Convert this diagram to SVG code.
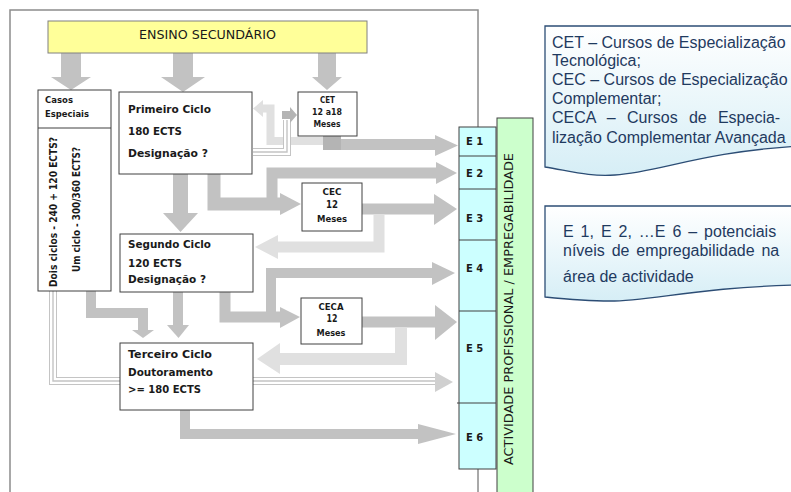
<svg xmlns="http://www.w3.org/2000/svg" width="791" height="492" viewBox="0 0 791 492">
<defs>
<linearGradient id="pg" x1="0" y1="0" x2="0" y2="1">
<stop offset="0" stop-color="#ffffff"/>
<stop offset="1" stop-color="#d6eef6"/>
</linearGradient>
<style>
.frame{fill:none;stroke:#8c8c8c;stroke-width:1.5}
.box{fill:#fff;stroke:#404040;stroke-width:1}
.t{font-family:"DejaVu Sans",Verdana,sans-serif;font-weight:bold;fill:#1a1a1a}
.tn{font-family:"DejaVu Sans",Verdana,sans-serif;fill:#1a1a1a}
.a{fill:none;stroke:#c2c2c2;stroke-linejoin:miter}
.ah{fill:#c2c2c2}
.l{fill:none;stroke:#e0e0e0;stroke-linejoin:miter}
.lh{fill:#e0e0e0}
.tr1{fill:none;stroke:#c4c4c4;stroke-width:8}
.tr2{fill:none;stroke:#fff;stroke-width:6}
.tr3{fill:none;stroke:#c4c4c4;stroke-width:1.4}
.p{font-family:"Liberation Sans",Arial,sans-serif;font-size:16px;fill:#1f3a60}
.panel{fill:url(#pg);stroke:#2c4d75;stroke-width:1.3}
</style>
</defs>
<rect class="frame" x="10" y="10" width="468" height="500"/>
<g id="connectors">
<path class="ah" d="M61,53 H81 V77 H91 L71,90 L51,77 H61 Z"/>
<path class="ah" d="M173,53 H193 V77 H205 L183,92 L161,77 H173 Z"/>
<path class="ah" d="M318,53 H336 V77 H342 L327,90 L312,77 H318 Z"/>
<path class="ah" d="M173,174 H188 V213 H198 L180.5,232 L163,213 H173 Z"/>
<path class="a" stroke-width="13" d="M214,174 V204 H282"/>
<polygon class="ah" points="280,193 280,215 301,204"/>
<path class="a" stroke-width="11" d="M272,204 V173 H438"/>
<polygon class="ah" points="436,162 436,184 457,173"/>
<path class="a" stroke-width="11" d="M362,209 H436"/>
<polygon class="ah" points="434,194 434,225 457,209"/>
<path class="l" stroke-width="11" d="M379,214 V247 H276"/>
<polygon class="lh" points="278,235 278,259 255,247"/>
<path class="a" stroke-width="11" d="M225,292 V317 H282"/>
<polygon class="ah" points="280,307 280,328 300,317"/>
<path class="a" stroke-width="10" d="M271,317 V273 H434"/>
<polygon class="ah" points="432,262 432,285 455,273"/>
<path class="a" stroke-width="11" d="M362,322 H437"/>
<polygon class="ah" points="435,305 435,340 457,322"/>
<path class="l" stroke-width="12" d="M401,327 V359 H278"/>
<polygon class="lh" points="280,343 280,374 257,359"/>
<path class="a" stroke-width="10" d="M185,410 V434 H420"/>
<polygon class="ah" points="418,424 418,444 456,434"/>
<path class="a" stroke-width="10" d="M91,291 V313 H143 V331"/>
<polygon class="ah" points="132,330 154,330 143,338"/>
<path class="a" stroke-width="10" d="M178,292 V326"/>
<polygon class="ah" points="167,325 189,325 178.5,338"/>
<path class="tr1" d="M53,291 V381 H437"/>
<path class="tr2" d="M53,291 V381 H437"/>
<path class="tr3" d="M53,291 V381 H437"/>
<polygon fill="#d0d0d0" points="435,372 435,392 453,382"/>
<path class="l" stroke-width="8" d="M325,141 H270.5 V108.5 H262"/>
<polygon class="lh" points="263,100 263,117 253,108.5"/>
<path class="tr1" d="M253,152 H287 V120"/>
<path class="tr2" d="M253,152 H287 V120"/>
<path class="tr3" d="M253,152 H287 V120"/>
<polygon fill="#b4b4b4" points="282,111 290,111 290,107 297,115 290,123 290,119 282,119"/>
<rect x="323" y="135" width="18" height="15" fill="#b4b4b4"/>
<path class="a" stroke-width="11" d="M341,144.5 H437"/>
<polygon class="ah" points="435,135 435,156 458,145.5"/>
</g>
<g id="ensino">
<rect x="48" y="21" width="319" height="32" fill="#ffff99" stroke="#808080" stroke-width="1"/>
<text class="tn" x="139" y="38.5" font-size="12.5" textLength="137" lengthAdjust="spacingAndGlyphs">ENSINO SECUNDÁRIO</text>
</g>
<g id="casos">
<rect class="box" x="38" y="90" width="73" height="201"/>
<line x1="38" y1="128" x2="111" y2="128" stroke="#404040" stroke-width="1"/>
<text class="t" x="45" y="103" font-size="9.5" textLength="28" lengthAdjust="spacingAndGlyphs">Casos</text>
<text class="t" x="45" y="117" font-size="9.5" textLength="44" lengthAdjust="spacingAndGlyphs">Especiais</text>
<text class="t" transform="translate(57,287) rotate(-90)" font-size="10" textLength="150" lengthAdjust="spacingAndGlyphs">Dois ciclos - 240 + 120 ECTS?</text>
<text class="t" transform="translate(80,272) rotate(-90)" font-size="10" textLength="125" lengthAdjust="spacingAndGlyphs">Um ciclo - 300/360 ECTS?</text>
</g>
<g id="primeiro">
<rect class="box" x="119" y="92" width="133" height="82"/>
<text class="t" x="128" y="113" font-size="10.5" textLength="83" lengthAdjust="spacingAndGlyphs">Primeiro Ciclo</text>
<text class="t" x="128" y="135" font-size="10.5" textLength="54" lengthAdjust="spacingAndGlyphs">180 ECTS</text>
<text class="t" x="128" y="157" font-size="10.5" textLength="80" lengthAdjust="spacingAndGlyphs">Designação ?</text>
</g>
<g id="segundo">
<rect class="box" x="120" y="234" width="133" height="58"/>
<text class="t" x="128" y="248" font-size="10.5" textLength="83" lengthAdjust="spacingAndGlyphs">Segundo Ciclo</text>
<text class="t" x="128" y="267" font-size="10.5" textLength="54" lengthAdjust="spacingAndGlyphs">120 ECTS</text>
<text class="t" x="128" y="283" font-size="10.5" textLength="78" lengthAdjust="spacingAndGlyphs">Designação ?</text>
</g>
<g id="terceiro">
<rect class="box" x="120" y="343" width="133" height="67"/>
<text class="t" x="128" y="358" font-size="10.5" textLength="84" lengthAdjust="spacingAndGlyphs">Terceiro Ciclo</text>
<text class="t" x="128" y="376" font-size="10.5" textLength="85" lengthAdjust="spacingAndGlyphs">Doutoramento</text>
<text class="t" x="128" y="393" font-size="10.5" textLength="73" lengthAdjust="spacingAndGlyphs">&gt;= 180 ECTS</text>
</g>
<g id="cet">
<rect class="box" x="298" y="92" width="59" height="44"/>
<text class="t" x="327.5" y="103" font-size="9" text-anchor="middle" textLength="15" lengthAdjust="spacingAndGlyphs">CET</text>
<text class="t" x="327" y="115" font-size="9" text-anchor="middle" textLength="30" lengthAdjust="spacingAndGlyphs">12 a18</text>
<text class="t" x="327" y="127" font-size="9" text-anchor="middle" textLength="27" lengthAdjust="spacingAndGlyphs">Meses</text>
</g>
<g id="cec">
<rect class="box" x="302" y="183" width="60" height="48"/>
<text class="t" x="332" y="195" font-size="9" text-anchor="middle" textLength="19" lengthAdjust="spacingAndGlyphs">CEC</text>
<text class="t" x="332" y="208" font-size="10.5" text-anchor="middle" textLength="12" lengthAdjust="spacingAndGlyphs">12</text>
<text class="t" x="332" y="222" font-size="9" text-anchor="middle" textLength="30" lengthAdjust="spacingAndGlyphs">Meses</text>
</g>
<g id="ceca">
<rect class="box" x="301" y="298" width="61" height="46"/>
<text class="t" x="331" y="310" font-size="9" text-anchor="middle" textLength="25" lengthAdjust="spacingAndGlyphs">CECA</text>
<text class="t" x="332" y="322" font-size="10.5" text-anchor="middle" textLength="11" lengthAdjust="spacingAndGlyphs">12</text>
<text class="t" x="331" y="336" font-size="9" text-anchor="middle" textLength="29" lengthAdjust="spacingAndGlyphs">Meses</text>
</g>
<g id="actividade">
<rect x="497" y="118" width="36" height="390" fill="#ccffcc" stroke="#404040" stroke-width="1"/>
<text class="tn" transform="translate(513,465) rotate(-90)" font-size="12.5" textLength="312" lengthAdjust="spacingAndGlyphs">ACTIVIDADE PROFISSIONAL / EMPREGABILIDADE</text>
</g>
<g id="niveis">
<rect x="459" y="127" width="37" height="342" fill="#ccffff" stroke="#404040" stroke-width="1"/>
<g stroke="#404040" stroke-width="1">
<line x1="459" y1="156" x2="496" y2="156"/>
<line x1="459" y1="189" x2="496" y2="189"/>
<line x1="459" y1="240" x2="496" y2="240"/>
<line x1="459" y1="311" x2="496" y2="311"/>
<line x1="457" y1="403" x2="496" y2="403"/>
</g>
<text class="t" x="466" y="145" font-size="10">E 1</text>
<text class="t" x="466" y="177" font-size="10">E 2</text>
<text class="t" x="466" y="222" font-size="10">E 3</text>
<text class="t" x="466" y="272" font-size="10">E 4</text>
<text class="t" x="466" y="352" font-size="10">E 5</text>
<text class="t" x="466" y="441" font-size="10">E 6</text>
</g>
<g id="legenda-cursos">
<path class="panel" d="M545,26 H800 V146 C700,152 660,172 615,175 C590,177 570,171 545,167 Z"/>
<text class="p" x="552" y="48">CET – Cursos de Especialização</text>
<text class="p" x="552" y="66">Tecnológica;</text>
<text class="p" x="552" y="85">CEC – Cursos de Especialização</text>
<text class="p" x="552" y="104">Complementar;</text>
<text class="p" x="552" y="123" word-spacing="6.8">CECA – Cursos de Especia-</text>
<text class="p" x="552" y="143">lização Complementar Avançada</text>
</g>
<g id="legenda-niveis">
<path class="panel" d="M545,206 H800 V285 C700,287 650,301 610,301 C585,301 565,299 545,297 Z"/>
<text class="p" x="563" y="237" word-spacing="2.5">E 1, E 2, …E 6 – potenciais</text>
<text class="p" x="563" y="256" word-spacing="2.4">níveis de empregabilidade na</text>
<text class="p" x="563" y="282">área de actividade</text>
</g>
</svg>
